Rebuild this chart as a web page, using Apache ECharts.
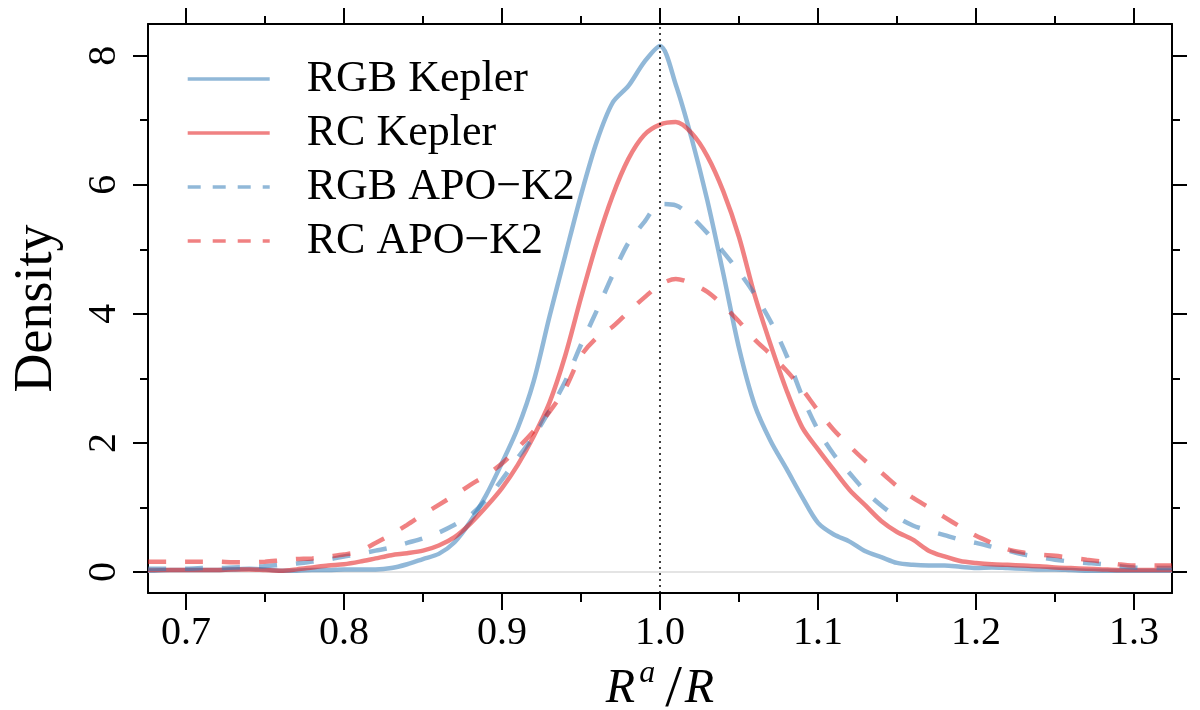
<!DOCTYPE html>
<html><head><meta charset="utf-8">
<script src="https://cdn.jsdelivr.net/npm/echarts@6/dist/echarts.min.js"></script>
<style>html,body{margin:0;padding:0;background:#fff}#c{width:1200px;height:710px}</style>
</head><body><div id="c"></div>
<script>
// R^a/R grid
const xs = [0.676,0.68,0.69,0.70,0.71,0.72,0.73,0.74,0.75,0.76,0.77,0.78,0.79,0.80,0.81,0.82,0.83,0.84,0.85,0.86,0.87,0.88,0.89,
  0.90,0.91,0.92,0.93,0.94,0.95,0.96,0.97,0.98,0.99,1.00,1.01,1.02,1.03,1.04,1.05,1.06,1.07,1.08,1.09,
  1.10,1.11,1.12,1.13,1.14,1.15,1.16,1.17,1.18,1.19,1.20,1.21,1.22,1.23,1.24,1.25,1.26,1.27,1.28,1.29,1.30,1.31,1.32,1.324];

const rgbKepler = [0.02,0.02,0.03,0.03,0.03,0.03,0.04,0.05,0.04,0.02,0.02,0.03,0.03,0.04,0.04,0.04,0.06,0.12,0.20,0.28,0.46,0.78,1.19,
  1.69,2.23,2.95,3.95,4.9,5.84,6.67,7.27,7.53,7.9,8.15,7.55,6.72,5.75,4.63,3.47,2.58,2.03,1.6,1.16,
  0.76,0.58,0.47,0.32,0.23,0.14,0.11,0.10,0.10,0.08,0.06,0.07,0.06,0.05,0.04,0.04,0.03,0.02,0.02,0.02,0.02,0.02,0.02,0.02];

const rcKepler = [0.03,0.03,0.03,0.03,0.03,0.03,0.04,0.04,0.03,0.02,0.04,0.07,0.10,0.12,0.16,0.21,0.26,0.29,0.33,0.41,0.54,0.75,1.01,
  1.3,1.66,2.1,2.62,3.35,4.25,5.1,5.83,6.4,6.77,6.93,6.97,6.8,6.44,5.9,5.19,4.28,3.52,2.82,2.24,
  1.9,1.58,1.27,1.03,0.79,0.62,0.5,0.33,0.24,0.17,0.14,0.12,0.11,0.10,0.09,0.07,0.06,0.05,0.04,0.03,0.03,0.03,0.03,0.03];

const rgbApoK2 = [0.05,0.05,0.05,0.05,0.06,0.06,0.07,0.08,0.09,0.11,0.13,0.16,0.19,0.24,0.28,0.33,0.38,0.45,0.52,0.61,0.73,0.88,1.12,
  1.43,1.77,2.1,2.5,2.95,3.52,4.05,4.6,5.1,5.42,5.7,5.68,5.5,5.25,4.96,4.65,4.3,3.88,3.36,2.72,
  2.2,1.82,1.53,1.25,1.03,0.85,0.72,0.64,0.57,0.5,0.45,0.39,0.33,0.27,0.23,0.19,0.16,0.14,0.12,0.09,0.07,0.06,0.06,0.06];

const rcApoK2 = [0.16,0.16,0.16,0.16,0.16,0.16,0.15,0.15,0.16,0.18,0.20,0.21,0.24,0.27,0.32,0.45,0.58,0.73,0.89,1.04,1.19,1.35,1.5,
  1.68,1.92,2.18,2.48,2.84,3.35,3.63,3.8,4.03,4.25,4.45,4.54,4.47,4.34,4.13,3.88,3.6,3.37,3.12,2.83,
  2.5,2.2,1.95,1.72,1.54,1.33,1.15,1.0,0.85,0.7,0.56,0.45,0.35,0.3,0.27,0.25,0.22,0.19,0.16,0.12,0.1,0.1,0.1,0.1];

const seriesNames = ['RGB Kepler','RC Kepler','RGB APO\u2212K2','RC APO\u2212K2'];
const xMajor = [0.7,0.8,0.9,1.0,1.1,1.2,1.3];
const xMinor = [0.75,0.85,0.95,1.05,1.15,1.25];
const yMajor = [0,2,4,6,8];
const yMinor = [1,3,5,7];

const X0 = 0.676, X1 = 1.324, Y0 = -0.326, Y1 = 8.49;
const F = 'Liberation Serif';
const BLUE = 'rgba(55,126,184,0.55)';
const RED = 'rgba(228,26,28,0.55)';

function pairs(v){ return xs.map((x,i)=>[x, v[i]]); }

function xAx(pos, vals, len, labels, extra){
  return Object.assign({
    type:'value', position:pos, min:X0, max:X1, splitLine:{show:false},
    axisLine:{show:true, onZero:false, lineStyle:{color:'#000', width:2}},
    axisTick:{show:true, inside:false, length:len, customValues:vals, lineStyle:{color:'#000', width:2}},
    axisLabel: labels ? {show:true, customValues:vals, formatter:v=>v.toFixed(1), fontFamily:F, fontSize:40, color:'#000', margin:20} : {show:false}
  }, extra||{});
}
function yAx(pos, vals, len, labels, extra){
  return Object.assign({
    type:'value', position:pos, min:Y0, max:Y1, splitLine:{show:false},
    axisLine:{show:true, onZero:false, lineStyle:{color:'#000', width:2}},
    axisTick:{show:true, inside:false, length:len, customValues:vals, lineStyle:{color:'#000', width:2}},
    axisLabel: labels ? {show:true, customValues:vals, formatter:v=>String(v), rotate:90, fontFamily:F, fontSize:40, color:'#000', margin:24} : {show:false}
  }, extra||{});
}

const chart = echarts.init(document.getElementById('c'));
const lw = 4.5;
const legendItem = (name, type) => ({name, itemStyle:{opacity:0}, lineStyle:{width:3.4, type}});
chart.setOption({
  animation:false,
  backgroundColor:'#fff',
  grid:{left:148, right:28, top:24, bottom:117, containLabel:false, outerBoundsMode:'none'},
  xAxis:[
    xAx('bottom', xMajor, 17, true, {
      name:'{i|R}{s|a}{sl|/}{i|R}', nameLocation:'middle', nameGap:72,
      nameTextStyle:{fontFamily:F, fontStyle:'italic', fontSize:48, color:'#000', lineHeight:52,
        rich:{
          i:{fontFamily:F, fontStyle:'italic', fontSize:48, color:'#000', verticalAlign:'bottom', lineHeight:52, padding:[0,0,7,0]},
          s:{fontFamily:F, fontStyle:'italic', fontSize:32, color:'#000', verticalAlign:'bottom', lineHeight:52, padding:[0,10,30,4]},
          sl:{fontFamily:F, fontStyle:'normal', fontSize:60, color:'#000', verticalAlign:'bottom', lineHeight:52, padding:[0,3,0,0]}
        }}
    }),
    xAx('bottom', xMinor, 9, false, {axisLine:{show:false, onZero:false}}),
    xAx('top', xMajor, 16, false),
    xAx('top', xMinor, 8, false, {axisLine:{show:false, onZero:false}})
  ],
  yAxis:[
    yAx('left', yMajor, 15, true, {
      name:'Density', nameLocation:'middle', nameGap:84, nameRotate:90,
      nameTextStyle:{fontFamily:F, fontSize:54, color:'#000'}
    }),
    yAx('left', yMinor, 8, false, {axisLine:{show:false, onZero:false}}),
    yAx('right', yMajor, 15, false),
    yAx('right', yMinor, 8, false, {axisLine:{show:false, onZero:false}})
  ],
  legend:{
    left:186, top:57, padding:0, orient:'vertical', itemWidth:82, itemHeight:2, itemGap:10,
    textStyle:{fontFamily:F, fontSize:44, color:'#000', lineHeight:43, padding:[0,0,0,32]},
    data:[
      legendItem(seriesNames[0], 'solid'),
      legendItem(seriesNames[1], 'solid'),
      legendItem(seriesNames[2], [13,12]),
      legendItem(seriesNames[3], [13,12])
    ]
  },
  series:[
    {name:'zero', type:'line', silent:true, symbol:'none', z:1, data:[[X0,0],[X1,0]], lineStyle:{color:'#e4e4e4', width:2}},
    {name:seriesNames[0], type:'line', symbol:'none', smooth:0.3, z:3, data:pairs(rgbKepler), itemStyle:{color:BLUE}, lineStyle:{color:BLUE, width:lw}},
    {name:seriesNames[1], type:'line', symbol:'none', smooth:0.3, z:3, data:pairs(rcKepler), itemStyle:{color:RED}, lineStyle:{color:RED, width:lw}},
    {name:seriesNames[2], type:'line', symbol:'none', smooth:0.3, z:3, data:pairs(rgbApoK2), itemStyle:{color:BLUE}, lineStyle:{color:BLUE, width:lw, type:[18,19]}},
    {name:seriesNames[3], type:'line', symbol:'none', smooth:0.3, z:3, data:pairs(rcApoK2), itemStyle:{color:RED}, lineStyle:{color:RED, width:lw, type:[18,19]}},
    {name:'ref', type:'line', silent:true, symbol:'none', z:5, data:[[1.0,Y0],[1.0,Y1]], lineStyle:{color:'#000', width:1.5, type:[2,4]}}
  ]
});
</script></body></html>
